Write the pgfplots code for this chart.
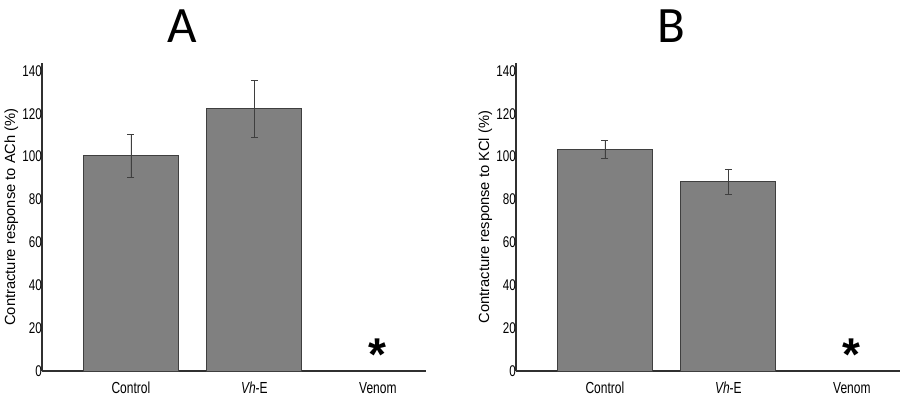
\documentclass[border=0pt]{standalone}
\usepackage{pgfplots}
\pgfplotsset{compat=1.18}
\usepackage{fontspec}
\setmainfont{Liberation Sans}
\newfontfamily\narrowfont[FakeStretch=0.75]{Liberation Sans}
\newfontfamily\titlefont{Carlito}
\definecolor{barfill}{HTML}{808080}
\definecolor{baredge}{HTML}{3F3F3F}
\definecolor{axcol}{HTML}{303030}
\pgfplotsset{panel/.style={
  scale only axis, width=384pt, height=308pt,
  xmin=-0.72, xmax=2.39, ymin=0, ymax=143.7,
  axis lines=left, axis line style={axcol, line width=1.2pt, -},
  xtick={0,1,2}, xticklabels={Control,{\itshape Vh}-E,Venom},
  ytick={0,20,...,140},
  /pgf/number format/assume math mode=true,
  major tick length=0pt,
  xticklabel style={font=\narrowfont\fontsize{16}{16}\selectfont, anchor=base, yshift=-22pt, inner sep=0pt},
  yticklabel style={font=\narrowfont\fontsize{15.5}{15.5}\selectfont, anchor=east, inner sep=0pt},
  ylabel style={font=\fontsize{14.7}{14.7}\selectfont, at={(axis description cs:-0.08,0.5)}, anchor=center},
  clip=false,
}}
\begin{document}
\begin{tikzpicture}
\useasboundingbox (-42pt,-26pt) rectangle (858pt,371pt);
\begin{axis}[panel, at={(0pt,0pt)}, ylabel={Contracture response to ACh (\%)}]
\addplot[ybar, bar width=95pt, fill=barfill, draw=baredge, line width=0.8pt,
  error bars/.cd, y dir=both, y explicit,
  error bar style={baredge, line width=0.7pt},
  error mark options={rotate=90, mark size=3.5pt, baredge, line width=0.7pt}]
  coordinates {(0,100.5) +- (0,10.0) (1,122.3) +- (0,13.4)};
\node[anchor=north, inner sep=0pt, text depth=0pt, font=\bfseries\fontsize{46}{46}\selectfont] at (axis cs:2,15.0) {*};
\end{axis}
\begin{axis}[panel, at={(474pt,0pt)}, ylabel={Contracture response to KCl (\%)}]
\addplot[ybar, bar width=95pt, fill=barfill, draw=baredge, line width=0.8pt,
  error bars/.cd, y dir=both, y explicit,
  error bar style={baredge, line width=0.7pt},
  error mark options={rotate=90, mark size=3.5pt, baredge, line width=0.7pt}]
  coordinates {(0,103.5) +- (0,4.2) (1,88.3) +- (0,6.0)};
\node[anchor=north, inner sep=0pt, text depth=0pt, font=\bfseries\fontsize{46}{46}\selectfont] at (axis cs:2,15.0) {*};
\end{axis}
\node[font=\titlefont\fontsize{51}{51}\selectfont, anchor=base, inner sep=0pt] at (140.5pt,328pt) {A};
\node[font=\titlefont\fontsize{51}{51}\selectfont, anchor=base, inner sep=0pt] at (629pt,328pt) {B};
\end{tikzpicture}
\end{document}
